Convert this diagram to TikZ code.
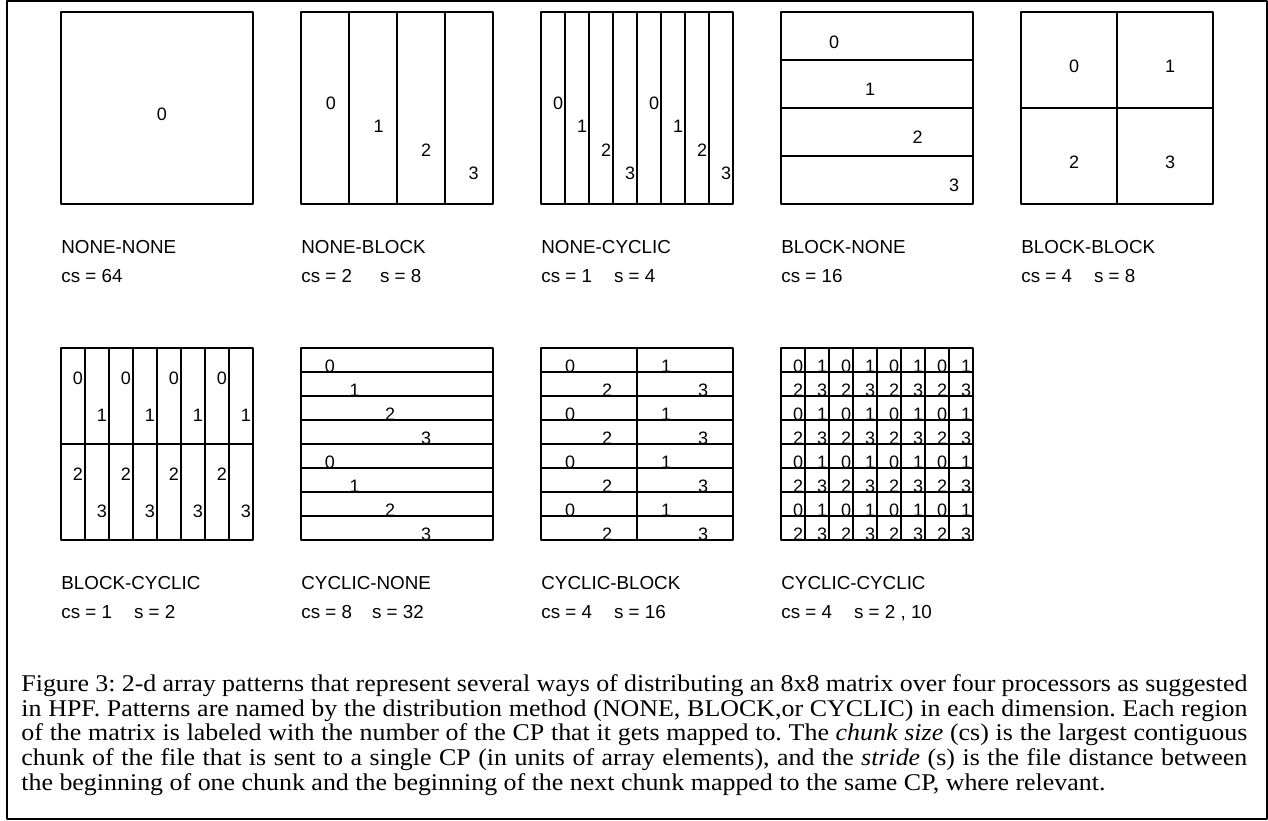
\documentclass[tikz,border=0pt]{standalone}
\usepackage{fontspec}
\setmainfont{Liberation Serif}
\setsansfont{Liberation Sans}
\newfontfamily\capfont[FakeStretch=1.08]{Liberation Serif}
\tikzset{
	cell/.style={line width=.55pt},
	dig/.style={font=\sffamily\fontsize{9}{9}\selectfont,inner sep=0pt},
	lab/.style={font=\sffamily\fontsize{9.4}{11}\selectfont,inner sep=0pt,anchor=base west},
	capt/.style={font=\capfont\fontsize{12}{12.4}\selectfont,inner sep=0pt,anchor=north west,text width=613pt,align=justify},
}
\begin{document}
\begin{tikzpicture}[x=.5pt,y=-.5pt,line join=round]
	\useasboundingbox (0,0) rectangle (1268,820);
	\draw[line width=1.15pt] (7,1) rectangle (1267,819);
	\path 
	(61,12)coordinate(NN)
	(301,12)coordinate(NB)
	(541,12)coordinate(NC)
	(781,12)coordinate(BN)
	(1021,12)coordinate(BB)
	(61,348)coordinate(BC)
	(301,348)coordinate(CN)
	(541,348)coordinate(CB)
	(781,348)coordinate(CC)
	;
	\foreach \p in {NN,NB,NC,BN,BB,BC,CN,CB,CC}\draw[cell] (\p) rectangle ++(192,192);
	\begin{scope}[shift={(NN)}]
		\node[dig] (nn0) at (101,102) {0};
	\end{scope}
	\begin{scope}[shift={(NB)}]
		\foreach \c in {48,96,144}\draw[cell] (\c,0)--(\c,192);
		\foreach \k/\x/\y in {0/30/91,1/77.5/114.5,2/125/138,3/172.5/161.5}\node[dig] (nb\k) at (\x,\y) {\k};
	\end{scope}
	\begin{scope}[shift={(NC)}]
		\foreach \c in {1,...,7}\draw[cell] (24*\c,0)--(24*\c,192);
		\foreach \c/\k in {0/0,1/1,2/2,3/3,4/0,5/1,6/2,7/3}\node[dig] (nc\c) at (24*\c+17,91+23.5*\k) {\k};
	\end{scope}
	\begin{scope}[shift={(BN)}]
		\foreach \r in {48,96,144}\draw[cell] (0,\r)--(192,\r);
		\foreach \k/\x/\y in {0/53/30,1/89/77,2/136.5/125,3/173/173}\node[dig] (bn\k) at (\x,\y) {\k};
	\end{scope}
	\begin{scope}[shift={(BB)}]
		\draw[cell] (96,0)--(96,192) (0,96)--(192,96);
		\foreach \k/\x/\y in {0/53/54,1/149/54,2/53/150,3/149/150}\node[dig] (bb\k) at (\x,\y) {\k};
	\end{scope}
	\begin{scope}[shift={(BC)}]
		\foreach \c in {1,...,7}\draw[cell] (24*\c,0)--(24*\c,192);
		\draw[cell] (0,96)--(192,96);
		\foreach \c/\k in {0/0,1/1,2/0,3/1,4/0,5/1,6/0,7/1}{
			\node[dig] (bc\c a) at (24*\c+17,30+37*\k) {\k};
			\pgfmathtruncatemacro\j{\k+2}
			\node[dig] (bc\c b) at (24*\c+17,126+37*\k) {\j};
		}
	\end{scope}
	\begin{scope}[shift={(CN)}]
		\foreach \r in {1,...,7}\draw[cell] (0,24*\r)--(192,24*\r);
		\foreach \r/\k/\x in {0/0/29,1/1/53.5,2/2/89,3/3/125,4/0/29,5/1/53.5,6/2/89,7/3/125}\node[dig] (cn\r) at (\x,24*\r+18.5) {\k};
	\end{scope}
	\begin{scope}[shift={(CB)}]
		\foreach \r in {1,...,7}\draw[cell] (0,24*\r)--(192,24*\r);
		\draw[cell] (96,0)--(96,192);
		\foreach \r/\k in {0/0,1/2,2/0,3/2,4/0,5/2,6/0,7/2}{
			\pgfmathtruncatemacro\j{\k+1}
			\node[dig] (cb\r a) at (29+18.5*\k,24*\r+18.5) {\k};
			\node[dig] (cb\r b) at (125+18.5*\k,24*\r+18.5) {\j};
		}
	\end{scope}
	\begin{scope}[shift={(CC)}]
		\foreach \i in {1,...,7}\draw[cell] (24*\i,0)--(24*\i,192) (0,24*\i)--(192,24*\i);
		\foreach \r in {0,...,7}\foreach \c in {0,...,7}{
			\pgfmathtruncatemacro\k{2*mod(\r,2)+mod(\c,2)}
			\node[dig] (cc\r\c) at (24*\c+17,24*\r+18.5) {\k};
		}
	\end{scope}
	\foreach \p/\a/\b in {NN/NONE-NONE/{cs = 64},NB/NONE-BLOCK/{cs = 2\hspace{14pt}s = 8},NC/NONE-CYCLIC/{cs = 1\hspace{11pt}s = 4},BN/BLOCK-NONE/{cs = 16},BB/BLOCK-BLOCK/{cs = 4\hspace{11pt}s = 8},BC/BLOCK-CYCLIC/{cs = 1\hspace{11pt}s = 2},CN/CYCLIC-NONE/{cs = 8\hspace{10pt}s = 32},CB/CYCLIC-BLOCK/{cs = 4\hspace{11pt}s = 16},CC/CYCLIC-CYCLIC/{cs = 4\hspace{11pt}s = 2 , 10}}{
		\node[lab] (\p-n) at ([shift={(0,241)}]\p) {\a};
		\node[lab] (\p-s) at ([shift={(0,270)}]\p) {\b};
	}
	\node[capt] (cap) at (21,674) {\frenchspacing Figure 3: 2-d array patterns that represent several ways of distributing an 8x8 matrix over four processors as suggested\linebreak
		in HPF. Patterns are named by the distribution method (NONE, BLOCK,or CYCLIC) in each dimension. Each region\linebreak
		of the matrix is labeled with the number of the CP that it gets mapped to. The \textit{chunk size} (cs) is the largest contiguous\linebreak
		chunk of the file that is sent to a single CP (in units of array elements), and the \textit{stride} (s) is the file distance between\linebreak
		the beginning of one chunk and the beginning of the next chunk mapped to the same CP, where relevant.};
\end{tikzpicture}
\end{document}
